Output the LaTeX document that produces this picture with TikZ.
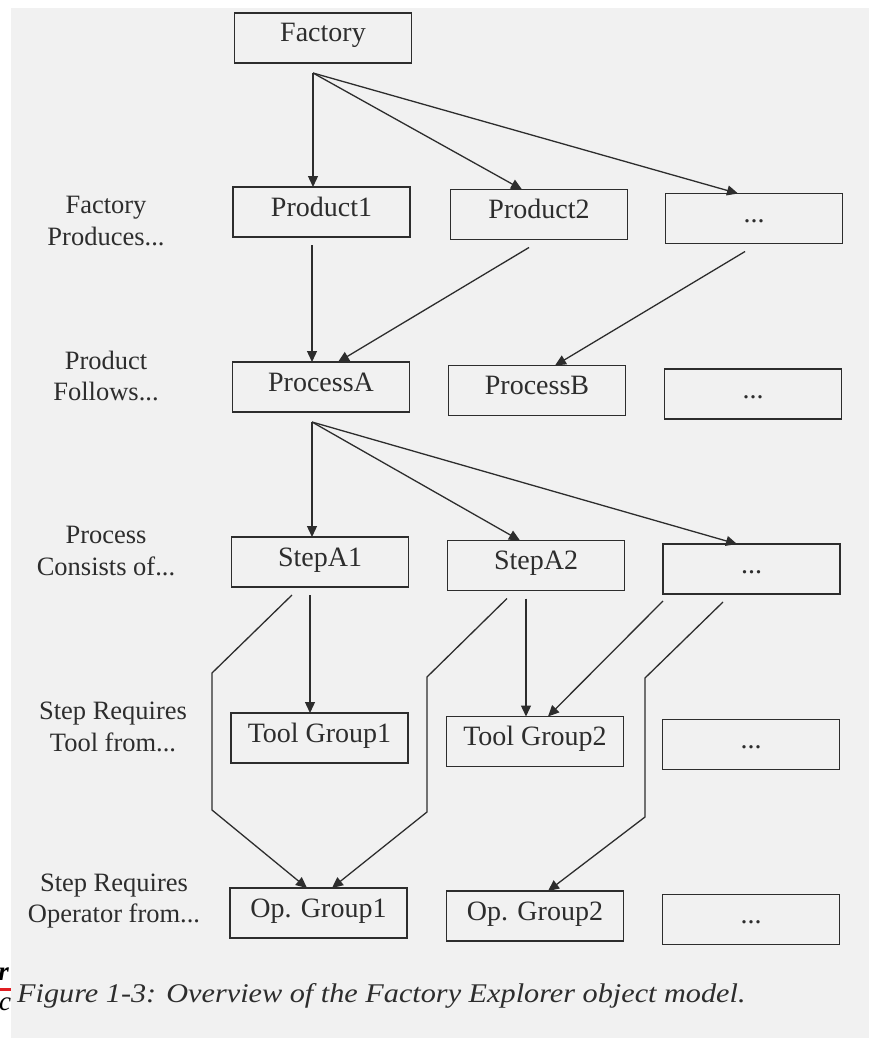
\documentclass[tikz,border=0pt]{standalone}
\usepackage{fontspec}
\setmainfont{Liberation Serif}
\usetikzlibrary{arrows.meta,calc}

\definecolor{paper}{RGB}{241,241,241}
\definecolor{ink}{RGB}{45,45,45}
\definecolor{marker}{RGB}{225,30,35}

\begin{document}
\begin{tikzpicture}[x=1pt,y=-1pt,
  box/.style={draw=ink, line width=1.3pt, minimum width=177pt, inner xsep=0pt,
    inner ysep=0pt, outer sep=0pt, text height=29pt, text depth=21pt,
    font=\fontsize{28}{32}\selectfont, text=ink},
  lbl/.style={align=center, font=\fontsize{26.5}{31.5}\selectfont, text=ink},
  arr/.style={draw=ink, line width=1.3pt, -{Triangle[length=11pt,width=10pt]}},
]
\useasboundingbox (0,0) rectangle (869,1038);
\fill[white] (0,0) rectangle (869,1038);

% fragments of the neighbouring page at the left edge
\node[anchor=base east, inner sep=0pt, text=black,
  font=\fontsize{27}{30}\selectfont\bfseries\itshape] (edgeR) at (9,980) {r};
\draw[marker, line width=3pt] (0,989) -- (11,989);
\node[anchor=base west, inner sep=0pt, text=black,
  font=\fontsize{27}{30}\selectfont\itshape] (edgeC) at (-1,1010) {ci};

% the page
\fill[paper] (11,8) rectangle (869,1038);

% boxes
\node[box] (F)  at (323,38)      {Factory};
\node[box] (P1) at (321.5,212)   {Product1};
\node[box] (P2) at (539,214.5)   {Product2};
\node[box] (D2) at (754,218.5)   {...};
\node[box] (A)  at (321,387)     {ProcessA};
\node[box] (B)  at (537,390.5)   {ProcessB};
\node[box] (D3) at (753,394)     {...};
\node[box] (S1) at (320,562)     {StepA1};
\node[box] (S2) at (536,565.5)   {StepA2};
\node[box] (D4) at (751.5,569)   {...};
\node[box] (T1) at (319.5,738)   {Tool Group1};
\node[box] (T2) at (535,741.5)   {Tool Group2};
\node[box] (D5) at (751,744.5)   {...};
\node[box] (O1) at (318.5,913)   {Op. Group1};
\node[box] (O2) at (535,916)     {Op. Group2};
\node[box] (D6) at (751,919.5)   {...};

% row labels
\node[lbl] (L1) at (106,221) {Factory\\Produces...};
\node[lbl] (L2) at (106,376) {Product\\Follows...};
\node[lbl] (L3) at (106,551) {Process\\Consists of...};
\node[lbl] (L4) at (113,727) {Step Requires\\Tool from...};
\node[lbl] (L5) at (114,901) {Step Requires\\Operator from...};

% factory produces
\coordinate (fF) at ([xshift=-10pt,yshift=-10pt]F.south);
\draw[arr] (fF) -- (fF |- P1.north);
\draw[arr] (fF) -- ([xshift=-17pt]P2.north);
\draw[arr] (fF) -- ([xshift=-16pt]D2.north);

% product follows
\draw[arr] ([xshift=-9.5pt,yshift=-8pt]P1.south) -- ([xshift=-9pt]A.north);
\draw[arr] ([xshift=-10pt,yshift=-8pt]P2.south) -- ([xshift=17pt]A.north);
\draw[arr] ([xshift=-9pt,yshift=-8pt]D2.south) -- ([xshift=18pt]B.north);

% process consists of
\coordinate (fA) at ([xshift=-9pt,yshift=-10pt]A.south);
\draw[arr] (fA) -- (fA |- S1.north);
\draw[arr] (fA) -- ([xshift=-16pt]S2.north);
\draw[arr] (fA) -- ([xshift=-14.5pt]D4.north);

% step requires tool / operator
\draw[arr] ([xshift=-28pt,yshift=-8pt]S1.south) -- (212,673) -- (212,810)
  -- ([xshift=-11.5pt]O1.north);
\draw[arr] ([xshift=-10pt,yshift=-8pt]S1.south) -- ([xshift=-9.5pt]T1.north);
\draw[arr] ([xshift=-29pt,yshift=-8pt]S2.south) -- (427,677) -- (427,812)
  -- ([xshift=13.5pt]O1.north);
\draw[arr] ([xshift=-10pt,yshift=-8pt]S2.south) -- ([xshift=-9pt]T2.north);
\draw[arr] ([xshift=-88.5pt,yshift=-7pt]D4.south) -- ([xshift=13pt]T2.north);
\draw[arr] ([xshift=-28.5pt,yshift=-8pt]D4.south) -- (645,678) -- (645,817)
  -- ([xshift=13pt]O2.north);

% caption
\node[anchor=base west, inner sep=0pt, text=ink,
  font=\fontsize{27}{30}\selectfont\itshape] (cap) at (17,1002)
  {\scalebox{1.12}[1]{Figure 1-3: Overview of the Factory Explorer object model.}};
\end{tikzpicture}
\end{document}
